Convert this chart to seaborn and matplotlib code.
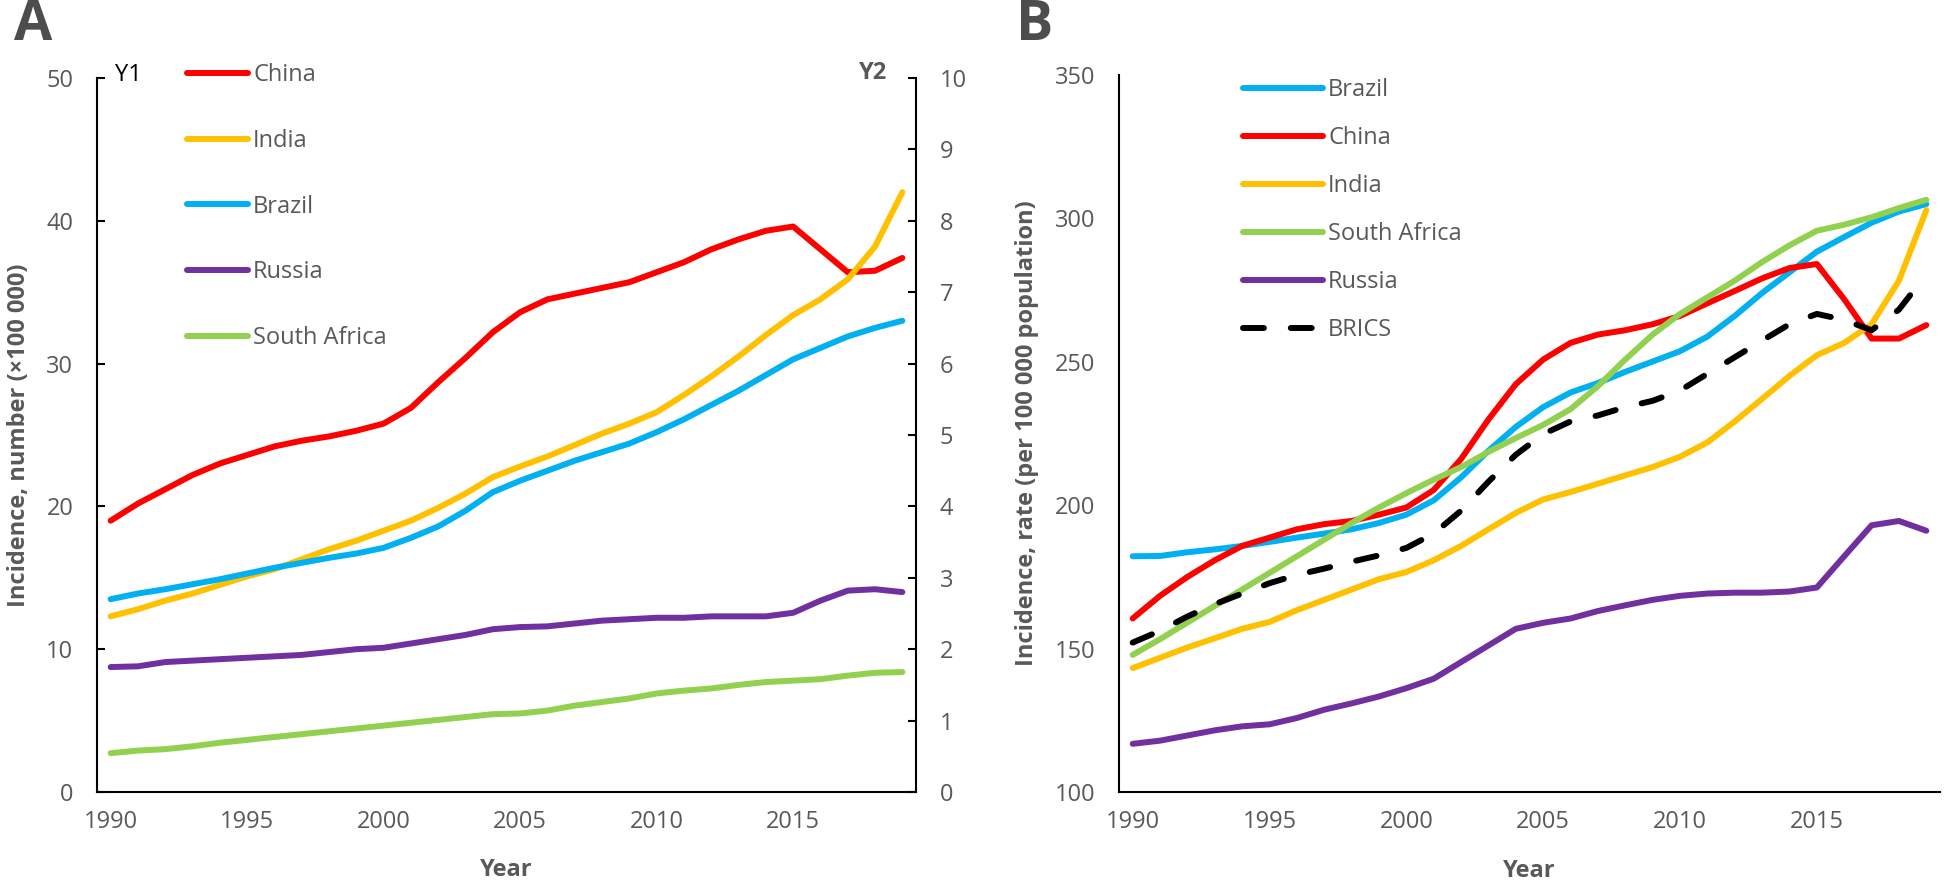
import matplotlib
matplotlib.use("Agg")
import matplotlib.pyplot as plt
import seaborn as sns
import numpy as np
import pandas as pd

years = list(range(1990, 2020))
x_labels = ["1990", "1995", "2000", "2005", "2010", "2015"]

# ---- Panel A: incidence, number (x100 000); China & India on Y1, others on Y2 ----
china_num = [19.0, 20.2, 21.2, 22.2, 23.0, 23.6, 24.2, 24.6, 24.9, 25.3, 25.8, 26.9, 28.7, 30.4, 32.2,
             33.6, 34.5, 34.9, 35.3, 35.7, 36.4, 37.1, 38.0, 38.7, 39.3, 39.6, 38.0, 36.4, 36.5, 37.4]
india_num = [12.3, 12.8, 13.4, 13.9, 14.5, 15.1, 15.6, 16.3, 17.0, 17.6, 18.3, 19.0, 19.9, 20.9, 22.05,
             22.8, 23.5, 24.3, 25.1, 25.8, 26.6, 27.8, 29.1, 30.5, 32.0, 33.4, 34.5, 35.9, 38.2, 42.0]
brazil_num = [2.70, 2.78, 2.84, 2.91, 2.98, 3.06, 3.14, 3.21, 3.28, 3.34, 3.42, 3.56, 3.72, 3.94, 4.20,
              4.36, 4.50, 4.64, 4.76, 4.88, 5.04, 5.22, 5.42, 5.62, 5.84, 6.06, 6.22, 6.38, 6.50, 6.60]
russia_num = [1.75, 1.76, 1.82, 1.84, 1.86, 1.88, 1.90, 1.92, 1.96, 2.00, 2.02, 2.08, 2.14, 2.20, 2.28,
              2.31, 2.32, 2.36, 2.40, 2.42, 2.44, 2.44, 2.46, 2.46, 2.46, 2.51, 2.68, 2.82, 2.84, 2.80]
safrica_num = [0.544, 0.58, 0.60, 0.64, 0.69, 0.73, 0.77, 0.81, 0.85, 0.89, 0.93, 0.97, 1.01, 1.05, 1.09,
               1.10, 1.14, 1.21, 1.26, 1.31, 1.38, 1.42, 1.45, 1.50, 1.54, 1.56, 1.58, 1.63, 1.67, 1.68]

# ---- Panel B: incidence rate (per 100 000 population) ----
brazil_rate = [182.2, 182.3, 183.6, 184.6, 185.8, 187.2, 188.7, 190.1, 191.6, 193.8, 196.7, 201.7, 209.7, 219.0, 227.3,
               234.2, 239.3, 242.6, 246.5, 250.1, 253.7, 258.8, 266.0, 274.0, 281.2, 288.4, 293.5, 298.5, 302.4, 305.0]
china_rate = [160.5, 168.4, 175.0, 180.8, 185.8, 188.7, 191.6, 193.4, 194.5, 196.7, 199.2, 205.3, 216.1, 229.9, 242.2,
              250.8, 256.6, 259.5, 261.0, 263.1, 266.0, 270.4, 274.7, 279.1, 282.7, 284.1, 271.8, 258.1, 258.1, 262.8]
india_rate = [143.2, 146.8, 150.4, 153.6, 156.9, 159.3, 163.4, 167.0, 170.6, 174.2, 176.7, 180.8, 185.8, 191.6, 197.3,
              202.0, 204.6, 207.5, 210.4, 213.3, 216.9, 221.9, 229.2, 237.1, 245.1, 252.3, 256.6, 263.1, 278.3, 302.9]
safrica_rate = [147.8, 153.3, 159.1, 164.9, 170.6, 176.4, 182.2, 188.0, 193.8, 199.2, 204.2, 208.9, 213.3, 218.6, 223.4,
                228.0, 233.5, 241.5, 250.8, 259.5, 266.7, 272.5, 278.3, 284.8, 290.6, 295.7, 297.8, 300.4, 303.6, 306.5]
russia_rate = [116.8, 117.9, 119.7, 121.5, 122.9, 123.6, 125.8, 128.7, 130.9, 133.3, 136.2, 139.5, 145.3, 151.1, 156.9,
               159.0, 160.5, 163.1, 165.1, 167.0, 168.4, 169.2, 169.5, 169.5, 169.9, 171.3, 182.2, 193.0, 194.5, 191.1]
brics_rate = [152.1, 156.2, 161.2, 165.5, 169.2, 172.8, 175.7, 177.9, 180.3, 182.5, 185.1, 190.1, 198.1, 208.2, 217.6,
              224.8, 229.2, 231.3, 234.2, 236.4, 240.0, 245.8, 251.6, 257.4, 263.1, 266.7, 264.6, 261.0, 268.2, 280.5]

colors = {"China": "#FF0000", "India": "#FFC000", "Brazil": "#00B0F0",
          "Russia": "#7030A0", "South Africa": "#92D050", "BRICS": "#000000"}

sns.set_theme(style="white")
plt.rcParams["font.family"] = ["Open Sans", "DejaVu Sans"]
plt.rcParams["axes.unicode_minus"] = False

GRAY = "#595959"
FS = 17
LW = 4.3

fig = plt.figure(figsize=(19.44, 8.83), dpi=100)
axA = fig.add_axes([97 / 1944, 91 / 883, 819 / 1944, 714 / 883])
axB = fig.add_axes([1119 / 1944, 91 / 883, 821 / 1944, 717 / 883])
axA2 = axA.twinx()

idx = np.arange(len(years))


def draw(ax, vals, name, dashed=False):
    sns.lineplot(x=idx, y=vals, ax=ax, color=colors[name], linewidth=LW,
                 label=name, legend=False, sort=False)
    ln = ax.get_lines()[-1]
    ln.set_solid_capstyle("round")
    ln.set_solid_joinstyle("round")
    if dashed:
        ln.set_dashes((3.5, 4.5))
        ln.set_dash_capstyle("round")
    return ln


hA = {}
hA["China"] = draw(axA, china_num, "China")
hA["India"] = draw(axA, india_num, "India")
hA["Brazil"] = draw(axA2, brazil_num, "Brazil")
hA["Russia"] = draw(axA2, russia_num, "Russia")
hA["South Africa"] = draw(axA2, safrica_num, "South Africa")

hB = {}
hB["Brazil"] = draw(axB, brazil_rate, "Brazil")
hB["China"] = draw(axB, china_rate, "China")
hB["India"] = draw(axB, india_rate, "India")
hB["South Africa"] = draw(axB, safrica_rate, "South Africa")
hB["Russia"] = draw(axB, russia_rate, "Russia")
hB["BRICS"] = draw(axB, brics_rate, "BRICS", dashed=True)


def style_x(ax):
    ax.set_xlim(-0.5, len(years) - 0.5)
    ax.set_xticks(np.arange(-0.5, len(years), 5))
    ax.set_xticklabels([])
    ax.set_xticks(np.arange(0, len(years), 5), minor=True)
    ax.set_xticklabels(x_labels, minor=True)
    ax.tick_params(axis="x", which="major", direction="out", length=7.5, width=1.5, color="black")
    ax.tick_params(axis="x", which="minor", length=0, pad=13, labelsize=FS, labelcolor=GRAY)
    ax.set_xlabel("Year", fontsize=FS, fontweight="bold", color=GRAY)
    ax.xaxis.set_label_coords(0.5, -0.093)


for ax in (axA, axA2, axB):
    ax.grid(False)
    ax.set_facecolor("none")
    for s in ax.spines.values():
        s.set_linewidth(1.5)
        s.set_color("black")
    ax.spines["top"].set_visible(False)

axA.spines["right"].set_visible(False)
axB.spines["right"].set_visible(False)
axA2.spines["left"].set_visible(False)
axA2.spines["bottom"].set_visible(False)

style_x(axA)
style_x(axB)

axA.set_ylim(0, 50)
axA.set_yticks(np.arange(0, 51, 10))
axA.tick_params(axis="y", direction="in", length=6, width=1.5, color="black",
                pad=17, labelsize=FS, labelcolor=GRAY)
axA.set_ylabel("Incidence, number (×100 000)", fontsize=FS, fontweight="bold", color=GRAY)
axA.yaxis.set_label_coords(-0.081, 0.5)

axA2.set_ylim(0, 10)
axA2.set_yticks(np.arange(0, 11, 1))
axA2.tick_params(axis="y", direction="in", length=6, width=1.5, color="black",
                 pad=17, labelsize=FS, labelcolor=GRAY)
axA2.set_ylabel("")

axB.set_ylim(100, 350)
axB.set_yticks(np.arange(100, 351, 50))
axB.tick_params(axis="y", direction="in", length=6, width=1.5, color="black",
                pad=17, labelsize=FS, labelcolor=GRAY)
axB.set_ylabel("Incidence, rate (per 100 000 population)", fontsize=FS, fontweight="bold", color=GRAY)
axB.yaxis.set_label_coords(-0.0974, 0.5)

# Legends
orderA = ["China", "India", "Brazil", "Russia", "South Africa"]
legA = axA2.legend([hA[k] for k in orderA], orderA, loc="upper left",
                   bbox_to_anchor=((187 - 97) / 819, (792 - 63) / 714),
                   frameon=False, fontsize=FS, labelcolor=GRAY,
                   handlelength=2.6, handletextpad=0.2, labelspacing=1.77,
                   borderpad=0, borderaxespad=0)

orderB = ["Brazil", "China", "India", "South Africa", "Russia", "BRICS"]
legB = axB.legend([hB[k] for k in orderB], orderB, loc="upper left",
                  bbox_to_anchor=((1243 - 1119) / 821, (792 - 78) / 717),
                  frameon=False, fontsize=FS, labelcolor=GRAY,
                  handlelength=3.4, handletextpad=0.2, labelspacing=1.02,
                  borderpad=0, borderaxespad=0)

# Axis tags
axA.text((115 - 97) / 819, (792 - 75) / 714, "Y1", transform=axA.transAxes,
         fontsize=FS, color="black", ha="left", va="center")
axA.text((887 - 97) / 819, (792 - 73) / 714, "Y2", transform=axA.transAxes,
         fontsize=FS, color=GRAY, fontweight="bold", ha="right", va="center")

# Panel letters
fig.text(14 / 1944, 1 - 25 / 883, "A", fontsize=40, fontweight="bold", color="#4D4D4D",
         ha="left", va="center")
fig.text(1016 / 1944, 1 - 25 / 883, "B", fontsize=40, fontweight="bold", color="#4D4D4D",
         ha="left", va="center")

fig.savefig("out.png", dpi=100)
